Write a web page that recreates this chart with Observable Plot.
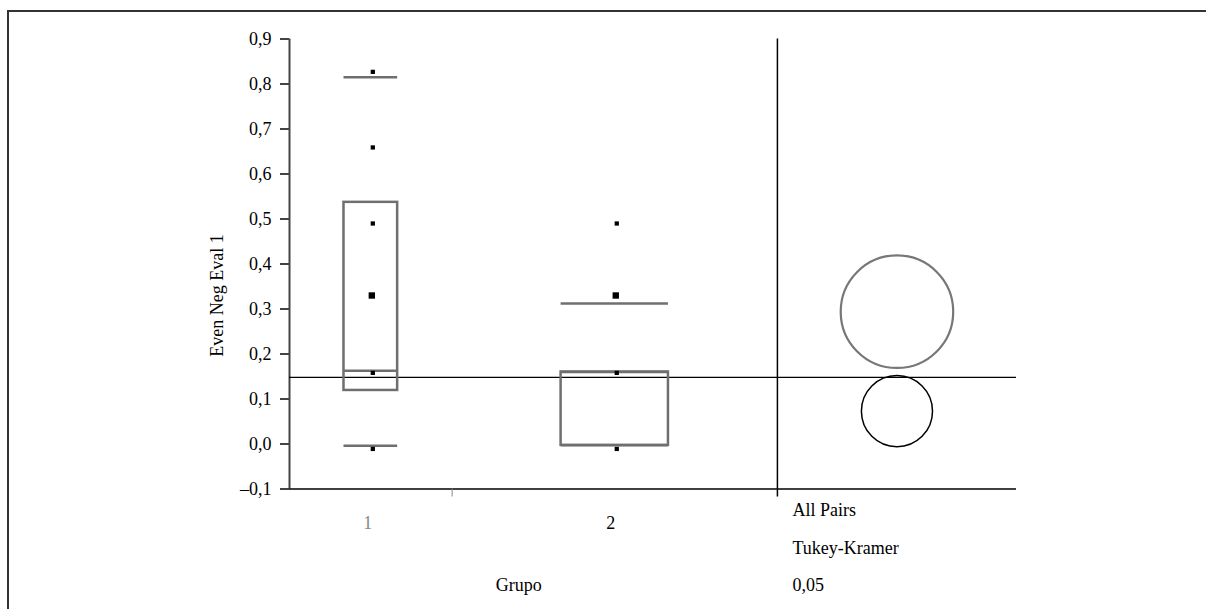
<!DOCTYPE html>
<html>
<head>
<meta charset="utf-8">
<script src="https://cdn.jsdelivr.net/npm/d3@7"></script>
<script src="https://cdn.jsdelivr.net/npm/@observablehq/plot@0.6"></script>
<style>
  html, body { margin: 0; padding: 0; background: #fff; overflow: hidden; }
  #wrap { position: relative; width: 1206px; height: 609px; overflow: hidden; }
  #wrap svg { position: absolute; left: 0; top: 0; }
  #frame { position: absolute; left: 7px; top: 10px; width: 1230px; height: 640px;
           border-top: 2px solid #333; border-left: 2px solid #333; pointer-events: none; }
</style>
</head>
<body>
<div id="wrap"><div id="frame"></div></div>
<script>
// ---- data ----
const groups = ["1", "2"];
const groupStart = [0, 1];
const groupEnd = [1, 3];
const boxLow = [0.119, -0.003];
const boxHigh = [0.537, 0.160];
const boxMid = [0.163, 0.160];
const whiskerLow = [-0.004, -0.003];
const whiskerHigh = [0.815, 0.312];
const pointGroup = ["1", "1", "1", "1", "1", "1", "2", "2", "2", "2"];
const pointValue = [0.827, 0.659, 0.490, 0.330, 0.158, -0.011, 0.490, 0.330, 0.158, -0.011];
const pointCount = [1, 1, 1, 2, 1, 1, 1, 2, 1, 1];
const grandMean = 0.148;
const circleMean = [0.294, 0.073];
const circleRadius = [0.125, 0.079];
const yTicks = [-0.1, 0, 0.1, 0.2, 0.3, 0.4, 0.5, 0.6, 0.7, 0.8, 0.9];
const yLabel = "Even Neg Eval 1";
const xLabel = "Grupo";
const testLines = ["All Pairs", "Tukey-Kramer", "0,05"];

// ---- layout ----
const W = 1206, H = 609;
const mL = 289, mR = 190, mT = 38.5, mB = 120.5;
const yDomain = [-0.1, 0.9];
const xMax = 4.47;
const panelStart = groupEnd[groupEnd.length - 1];
const panelCenter = (panelStart + xMax) / 2;
const pxPerUnit = (H - mT - mB) / (yDomain[1] - yDomain[0]);
const font = "Liberation Serif, Times New Roman, serif";
const boxColor = "#6f6f6f";

const gi = g => groups.indexOf(g);
const center = i => (groupStart[i] + groupEnd[i]) / 2;
const half = i => 0.165 * (groupEnd[i] - groupStart[i]);
const fmt = d => (Math.abs(d) < 1e-9 ? 0 : d).toFixed(1).replace(".", ",").replace("-", "\u2013");
const txt = {fontSize: 18, fontFamily: font, lineAnchor: "middle"};

const plot = Plot.plot({
  width: W, height: H,
  marginLeft: mL, marginRight: mR, marginTop: mT, marginBottom: mB,
  x: {type: "linear", domain: [0, xMax], label: null},
  y: {type: "linear", domain: yDomain, label: null},
  r: {type: "linear", domain: [0, 1], range: [0, pxPerUnit]},
  style: {fontFamily: font, fontSize: "18px", background: "transparent", color: "#000"},
  marks: [
    // y axis
    Plot.axisY({ticks: yTicks, tickFormat: fmt, tickSize: 9, tickPadding: 9,
      stroke: "#444", strokeWidth: 2, fontSize: 18, fontFamily: font, label: null}),
    Plot.ruleX([0], {y1: yDomain[0], y2: yDomain[1], stroke: "#444", strokeWidth: 2}),
    // x axis line and stubs
    Plot.ruleY([yDomain[0]], {x1: 0, x2: xMax, stroke: "#000", strokeWidth: 1.5}),
    Plot.axisX({ticks: [groupEnd[0]], tickSize: 8, tickFormat: () => "", stroke: "#888", label: null}),
    Plot.axisX({ticks: [panelStart], tickSize: 8, tickFormat: () => "", stroke: "#000", strokeWidth: 1.5, label: null}),
    Plot.ruleX([panelStart], {y1: yDomain[0], y2: yDomain[1], stroke: "#000", strokeWidth: 1.5}),
    // grand mean
    Plot.ruleY([grandMean], {x1: 0, x2: xMax, stroke: "#000", strokeWidth: 1.2}),
    // boxes
    Plot.rect(groups, {
      x1: (d, i) => center(i) - half(i), x2: (d, i) => center(i) + half(i),
      y1: (d, i) => boxLow[i], y2: (d, i) => boxHigh[i],
      fill: "none", stroke: boxColor, strokeWidth: 2.5
    }),
    Plot.ruleY(groups, {x1: (d, i) => center(i) - half(i), x2: (d, i) => center(i) + half(i),
      y: (d, i) => boxMid[i], stroke: boxColor, strokeWidth: 2.5}),
    Plot.ruleY(groups, {x1: (d, i) => center(i) - half(i), x2: (d, i) => center(i) + half(i),
      y: (d, i) => whiskerHigh[i], stroke: boxColor, strokeWidth: 2.5}),
    Plot.ruleY(groups, {x1: (d, i) => center(i) - half(i), x2: (d, i) => center(i) + half(i),
      y: (d, i) => whiskerLow[i], stroke: boxColor, strokeWidth: 2.5}),
    // points
    Plot.dot(pointValue, {filter: (d, i) => pointCount[i] === 1,
      x: (d, i) => center(gi(pointGroup[i])), y: d => d, dx: 2,
      symbol: "square", r: 2.4, fill: "#000", stroke: "none"}),
    Plot.dot(pointValue, {filter: (d, i) => pointCount[i] > 1,
      x: (d, i) => center(gi(pointGroup[i])), y: d => d, dx: 1,
      symbol: "square", r: 3.6, fill: "#000", stroke: "none"}),
    // comparison circles
    Plot.dot(circleMean, {filter: (d, i) => i === 0, x: () => panelCenter, y: d => d,
      r: (d, i) => circleRadius[i], fill: "none", stroke: "#777", strokeWidth: 2.2}),
    Plot.dot(circleMean, {filter: (d, i) => i === 1, x: () => panelCenter, y: d => d,
      r: (d, i) => circleRadius[i], fill: "none", stroke: "#000", strokeWidth: 1.5}),
    // group labels
    Plot.text(groups, {...txt, filter: (d, i) => i === 0, x: (d, i) => center(i), frameAnchor: "bottom",
      text: d => d, dy: 34.5, dx: -3, fill: "#888"}),
    Plot.text(groups, {...txt, filter: (d, i) => i === 1, x: (d, i) => center(i), frameAnchor: "bottom",
      text: d => d, dy: 34.5, dx: -4, fill: "#000"}),
    // axis titles
    Plot.text([xLabel], {...txt, x: () => 1.41, frameAnchor: "bottom", text: d => d, dy: 96, fill: "#000"}),
    Plot.text([yLabel], {...txt, frameAnchor: "left", textAnchor: "middle", text: d => d, rotate: -90,
      dx: -72, dy: 31.5, fill: "#000"}),
    // test description
    ...testLines.map((t, i) => Plot.text([t], {...txt, x: () => panelStart, frameAnchor: "bottom",
      text: d => d, textAnchor: "start", dx: 15, dy: 21.5 + 37.5 * i, fill: "#000"}))
  ]
});
document.getElementById("wrap").prepend(plot);
</script>
</body>
</html>
